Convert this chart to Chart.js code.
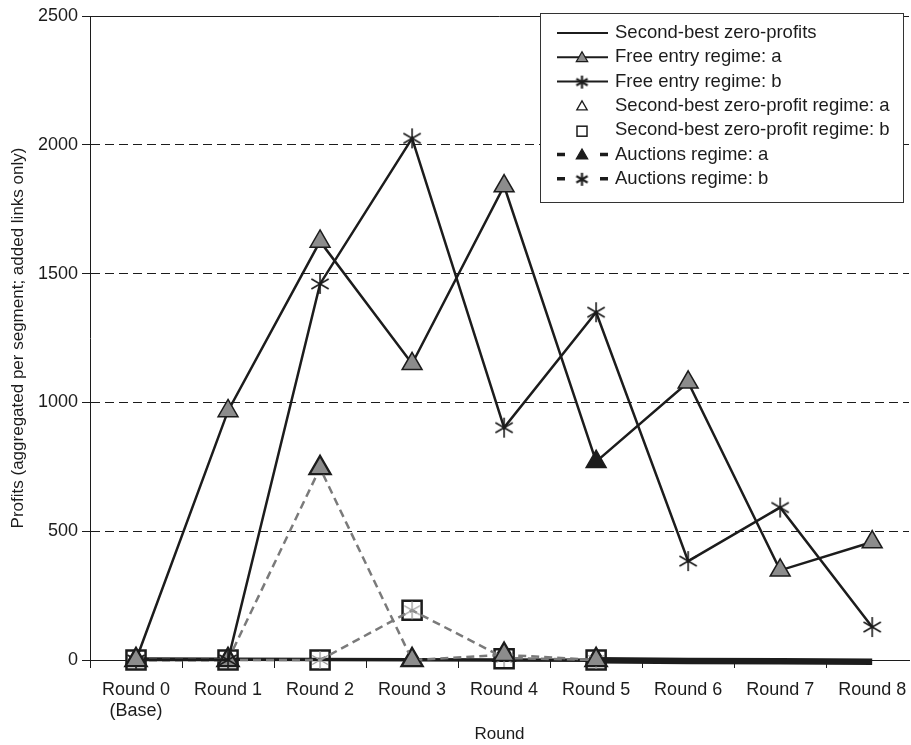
<!DOCTYPE html>
<html>
<head>
<meta charset="utf-8">
<script src="https://cdn.jsdelivr.net/npm/chart.js@4.4.1/dist/chart.umd.min.js"></script>
<style>
  html, body { margin: 0; padding: 0; background: #fff; }
</style>
</head>
<body>
<canvas id="profitChart" width="911" height="745"></canvas>
<script>
const rounds = [["Round 0", "(Base)"], "Round 1", "Round 2", "Round 3", "Round 4", "Round 5", "Round 6", "Round 7", "Round 8"];
const yTicks = [0, 500, 1000, 1500, 2000, 2500];

const secondBestZero = [4, 3, 2, 1, 0, -1, -4, -5, -7];
const freeEntryA = [0, 967, 1625, 1150, 1840, 770, 1078, 348, 458];
const freeEntryB = [0, 0, 1460, 2025, 902, 1350, 384, 592, 128];
const secondBestA = [0, 0, 745, 0, 20, 0];
const secondBestB = [0, 0, 0, 193, 5, 0];
const auctionsA = [0, 0, 745, 0, 20, 0];
const auctionsB = [0, 0, 0, 193, 8, 0];

const FONT = "'Liberation Sans', Arial, Helvetica, sans-serif";
const INK = "#1c1c1c";
const GREY_FILL = "#8c8c8c";
const GREY_LINE = "#7a7a7a";

const pts = (arr) => arr.map((v, i) => ({ x: i, y: v }));

// asterisk marker (6 spokes) as a small canvas
const makeStar = (size, color, lw) => {
    const c = document.createElement("canvas");
    c.width = c.height = size;
    const g = c.getContext("2d");
    const m = size / 2, r = size / 2 - 1;
    g.strokeStyle = color;
    g.lineWidth = lw;
    [90, 30, 150].forEach((deg) => {
        const a = deg * Math.PI / 180;
        g.beginPath();
        g.moveTo(m - r * Math.cos(a), m - r * Math.sin(a));
        g.lineTo(m + r * Math.cos(a), m + r * Math.sin(a));
        g.stroke();
    });
    return c;
};
const starBlack = makeStar(22, INK, 1.6);
const starGrey = makeStar(20, "#9a9a9a", 1.3);
const starLegend = makeStar(15, INK, 2.2);

// === legend drawn inside the plot ===
const legendEntries = [
    { label: "Second-best zero-profits", line: "solid", marker: null },
    { label: "Free entry regime: a", line: "solid", marker: "triGrey" },
    { label: "Free entry regime: b", line: "solid", marker: "star" },
    { label: "Second-best zero-profit regime: a", line: null, marker: "triOpen" },
    { label: "Second-best zero-profit regime: b", line: null, marker: "square" },
    { label: "Auctions regime: a", line: "dash", marker: "triBlack" },
    { label: "Auctions regime: b", line: "dash", marker: "star" }
];

const drawTri = (ctx, x, y, r, fill) => {
    ctx.beginPath();
    ctx.moveTo(x, y - r);
    ctx.lineTo(x + r * 0.866, y + r * 0.5);
    ctx.lineTo(x - r * 0.866, y + r * 0.5);
    ctx.closePath();
    ctx.fillStyle = fill;
    ctx.fill();
    ctx.lineWidth = 1.3;
    ctx.strokeStyle = INK;
    ctx.stroke();
};

const legendBox = {
    id: "legendBox",
    beforeDatasetsDraw(chart) {
        // solid frame line at the top of the plot
        const { ctx, chartArea } = chart;
        const yTop = chart.scales.y.getPixelForValue(2500);
        ctx.save();
        ctx.strokeStyle = INK;
        ctx.lineWidth = 1;
        ctx.beginPath();
        ctx.moveTo(chartArea.left, Math.round(yTop) + 0.5);
        ctx.lineTo(chartArea.right, Math.round(yTop) + 0.5);
        ctx.stroke();
        ctx.restore();
    },
    afterDraw(chart) {
        const { ctx } = chart;
        const bx = 540.5, by = 13.5, bw = 363, bh = 189;
        ctx.save();
        ctx.fillStyle = "#fff";
        ctx.fillRect(bx, by, bw, bh);
        ctx.strokeStyle = "#333";
        ctx.lineWidth = 1;
        ctx.strokeRect(bx, by, bw, bh);

        const x0 = 557, x1 = 608, xm = 582;
        legendEntries.forEach((e, i) => {
            const y = 33 + i * 24.3;
            ctx.strokeStyle = INK;
            if (e.line === "solid") {
                ctx.lineWidth = 2;
                ctx.beginPath();
                ctx.moveTo(x0, y);
                ctx.lineTo(x1, y);
                ctx.stroke();
            } else if (e.line === "dash") {
                ctx.lineWidth = 3.5;
                ctx.beginPath();
                ctx.moveTo(x0, y); ctx.lineTo(x0 + 8, y);
                ctx.moveTo(x1 - 8, y); ctx.lineTo(x1, y);
                ctx.stroke();
            }
            if (e.marker === "triGrey") drawTri(ctx, xm, y + 1, 6.5, GREY_FILL);
            if (e.marker === "triBlack") drawTri(ctx, xm, y + 1, 6.5, INK);
            if (e.marker === "triOpen") drawTri(ctx, xm, y + 1, 6, "#fff");
            if (e.marker === "square") {
                ctx.lineWidth = 1.5;
                ctx.fillStyle = "#fff";
                ctx.fillRect(xm - 5, y - 4, 10, 10);
                ctx.strokeRect(xm - 5, y - 4, 10, 10);
            }
            if (e.marker === "star") ctx.drawImage(starLegend, xm - 7.5, y - 7);

            ctx.fillStyle = INK;
            ctx.font = "18.5px " + FONT;
            ctx.textBaseline = "middle";
            ctx.textAlign = "left";
            ctx.fillText(e.label, 615, y);
        });
        ctx.restore();
    }
};

const tickFont = { family: FONT, size: 18 };

new Chart(document.getElementById("profitChart"), {
    type: "line",
    data: {
        datasets: [
            {
                label: "Free entry regime: a",
                data: pts(freeEntryA),
                order: 1,
                borderColor: INK,
                borderWidth: 2.5,
                pointStyle: "triangle",
                pointRadius: 11.5,
                pointBackgroundColor: (c) => c.dataIndex === 5 ? INK : GREY_FILL,
                pointBorderColor: INK,
                pointBorderWidth: 1.5,
                clip: false
            },
            {
                label: "Free entry regime: b",
                data: pts(freeEntryB),
                order: 2,
                borderColor: INK,
                borderWidth: 2.5,
                pointStyle: starBlack,
                pointRadius: 10,
                clip: false
            },
            {
                label: "Auctions regime: a",
                data: pts(auctionsA),
                order: 3,
                borderColor: GREY_LINE,
                borderWidth: 2.5,
                borderDash: [8, 5],
                pointStyle: "triangle",
                pointRadius: 11.5,
                pointBackgroundColor: GREY_FILL,
                pointBorderColor: INK,
                pointBorderWidth: 1.5,
                clip: false
            },
            {
                label: "Auctions regime: b",
                data: pts(auctionsB),
                order: 4,
                borderColor: GREY_LINE,
                borderWidth: 2.5,
                borderDash: [8, 5],
                pointStyle: starGrey,
                pointRadius: 10,
                clip: false
            },
            {
                label: "Second-best zero-profits",
                data: pts(secondBestZero),
                order: 5,
                borderColor: INK,
                borderWidth: 3.5,
                segment: {
                    borderWidth: (c) => c.p0DataIndex >= 5 ? 6.5 : 3.5
                },
                pointRadius: 0,
                clip: false
            },
            {
                label: "Second-best zero-profit regime: a",
                data: pts(secondBestA),
                order: 6,
                showLine: false,
                pointStyle: "triangle",
                pointRadius: 13,
                pointBackgroundColor: "#fff",
                pointBorderColor: INK,
                pointBorderWidth: 1.5,
                clip: false
            },
            {
                label: "Second-best zero-profit regime: b",
                data: pts(secondBestB),
                order: 7,
                showLine: false,
                pointStyle: "rect",
                pointRadius: 13.5,
                pointBackgroundColor: "#fff",
                pointBorderColor: INK,
                pointBorderWidth: 2.5,
                clip: false
            }
        ]
    },
    options: {
        responsive: false,
        animation: false,
        layout: { autoPadding: false, padding: { top: 16, right: 2, left: 0, bottom: 0 } },
        plugins: {
            legend: { display: false },
            tooltip: { enabled: false }
        },
        scales: {
            x: {
                type: "linear",
                min: -0.5,
                max: 8.4,
                afterBuildTicks: (scale) => { scale.ticks = rounds.map((r, i) => ({ value: i })); },
                afterFit: (scale) => {
                    scale.height = 85;
                    scale.paddingLeft = 0;
                    scale.paddingRight = 0;
                },
                grid: {
                    offset: true,
                    drawOnChartArea: false,
                    tickLength: 8,
                    color: INK,
                    tickColor: INK
                },
                border: { color: INK, width: 1 },
                ticks: {
                    callback: (v) => rounds[v],
                    autoSkip: false,
                    maxRotation: 0,
                    padding: 11,
                    color: INK,
                    font: tickFont
                },
                title: {
                    display: true,
                    text: "Round",
                    color: INK,
                    font: { family: FONT, size: 17 },
                    padding: { top: 0, bottom: 0 }
                }
            },
            y: {
                min: 0,
                max: 2500,
                afterBuildTicks: (scale) => { scale.ticks = yTicks.map((v) => ({ value: v })); },
                afterFit: (scale) => { scale.width = 90; },
                grid: {
                    color: (c) => (c.tick && (c.tick.value === 0 || c.tick.value === 2500)) ? "rgba(0,0,0,0)" : INK,
                    tickColor: INK,
                    tickLength: 8,
                    lineWidth: 1
                },
                border: { color: INK, width: 1, dash: [9, 5] },
                ticks: {
                    callback: (v) => String(v),
                    padding: 4,
                    color: INK,
                    font: tickFont
                },
                title: {
                    display: true,
                    text: "Profits (aggregated per segment; added links only)",
                    color: INK,
                    font: { family: FONT, size: 17 },
                    padding: { top: 8, bottom: 0 }
                }
            }
        }
    },
    plugins: [legendBox]
});
</script>
</body>
</html>
